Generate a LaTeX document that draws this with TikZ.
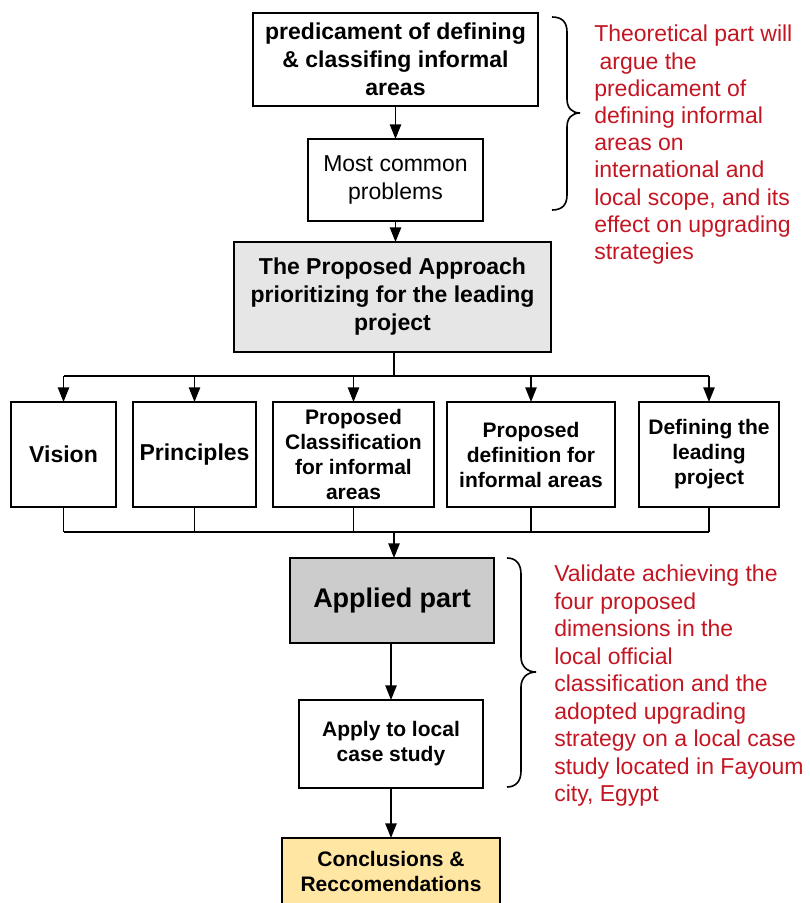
\documentclass[tikz,border=0pt]{standalone}
\usepackage{fontspec}
\setmainfont{Liberation Sans}
\usetikzlibrary{arrows.meta}
\definecolor{redtxt}{RGB}{196,22,34}
\definecolor{grayA}{RGB}{230,230,230}
\definecolor{grayB}{RGB}{204,204,204}
\definecolor{yellowbox}{RGB}{255,231,163}
\begin{document}
\begin{tikzpicture}[x=0.75pt,y=-0.75pt,
  box/.style={draw=black,line width=1.4pt,inner sep=0pt,outer sep=0pt,align=center,fill=white},
  conn/.style={line width=1.1pt},
  arr/.style={line width=1.1pt,-{Triangle[length=11pt,width=8.5pt]}},
  fbig/.style={font=\bfseries\fontsize{17.25pt}{21pt}\selectfont},
  fmid/.style={font=\bfseries\fontsize{15.75pt}{18.75pt}\selectfont},
  note/.style={text=redtxt,align=left,inner sep=0pt,anchor=north west,font=\fontsize{17.25pt}{20.4pt}\selectfont},
  bracepath/.style={line width=1.2pt}
]
\clip (0,0) rectangle (810,903);
\fill[white] (0,0) rectangle (810,903);

% top part
\node[box,fbig,minimum width=213.75pt,minimum height=69.75pt] (b1) at (395.5,59.5)
  {predicament of defining\\\& classifing informal\\areas};
\node[box,font=\fontsize{17.25pt}{20.75pt}\selectfont,minimum width=131.25pt,minimum height=61.5pt] (b2) at (395.5,180)
  {Most common\\problems};
\node[box,fbig,fill=grayA,minimum width=237.75pt,minimum height=82.5pt] (b3) at (392.5,297)
  {The Proposed Approach\\prioritizing for the leading\\project};

\draw[arr] (b1.south) -- (b2.north);
\draw[arr] (b2.south) -- (b2.south |- b3.north);

% row
\node[box,fbig,minimum width=78.75pt,minimum height=78.75pt] (vis) at (63.5,454.5) {Vision};
\node[box,fbig,minimum width=92.25pt,minimum height=78.75pt] (pri) at (194.5,454.5) {Principles};
\node[box,fmid,minimum width=120.75pt,minimum height=78.75pt] (pcl) at (353.5,454.5) {Proposed\\Classification\\for informal\\areas};
\node[box,fmid,minimum width=126pt,minimum height=78.75pt] (pdf) at (531,454.5) {Proposed\\definition for\\informal areas};
\node[box,fmid,minimum width=105pt,minimum height=78.75pt] (dlp) at (709,454.5) {Defining the\\leading\\project};

\coordinate (top) at (394,376);
\coordinate (bot) at (394,532);
\draw[conn] (b3.south -| top) -- (top);
\draw[conn] (vis.north |- top) -- (dlp.north |- top);
\foreach \n in {vis,pri,pcl,pdf,dlp}{
  \draw[arr] (\n.north |- top) -- (\n.north);
  \draw[conn] (\n.south) -- (\n.south |- bot);
}
\draw[conn] (vis.south |- bot) -- (dlp.south |- bot);

% applied part
\node[box,font=\bfseries\fontsize{20.25pt}{24pt}\selectfont,fill=grayB,minimum width=153pt,minimum height=63.75pt] (app) at (392,600.5) {Applied part};
\node[box,fmid,minimum width=138pt,minimum height=66pt] (cas) at (391,744) {Apply to local\\case study};
\node[box,fmid,fill=yellowbox,minimum width=163.5pt,minimum height=50.25pt] (con) at (391,871.5) {Conclusions \&\\Reccomendations};

\draw[arr] (bot) -- (bot |- app.north);
\draw[arr] (app.south -| cas.north) -- (cas.north);
\draw[arr] (cas.south) -- (con.north);

% braces
\draw[bracepath] (552,17) .. controls (562,17) and (567,22) .. (567,32) -- (567,99)
  .. controls (567,108) and (572,113) .. (580,113)
  .. controls (572,113) and (567,118) .. (567,127) -- (567,195)
  .. controls (567,205) and (562,210) .. (552,210);
\draw[bracepath] (507,558) .. controls (516,558) and (521,564) .. (521,574) -- (521,657)
  .. controls (521,666) and (527,672) .. (536,672)
  .. controls (527,672) and (521,678) .. (521,687) -- (521,771)
  .. controls (521,781) and (516,787) .. (507,787);

% notes
\node[note] (n1) at (594,25) {Theoretical part will\\\hspace{4pt}argue the\\predicament of\\defining informal\\areas on\\international and\\local scope, and its\\effect on upgrading\\strategies};
\node[note,font=\fontsize{17.25pt}{20.6pt}\selectfont] (n2) at (554,565) {Validate achieving the\\four proposed\\dimensions in the\\local official\\classification and the\\adopted upgrading\\strategy on a local case\\study located in Fayoum\\city, Egypt};
\end{tikzpicture}
\end{document}
